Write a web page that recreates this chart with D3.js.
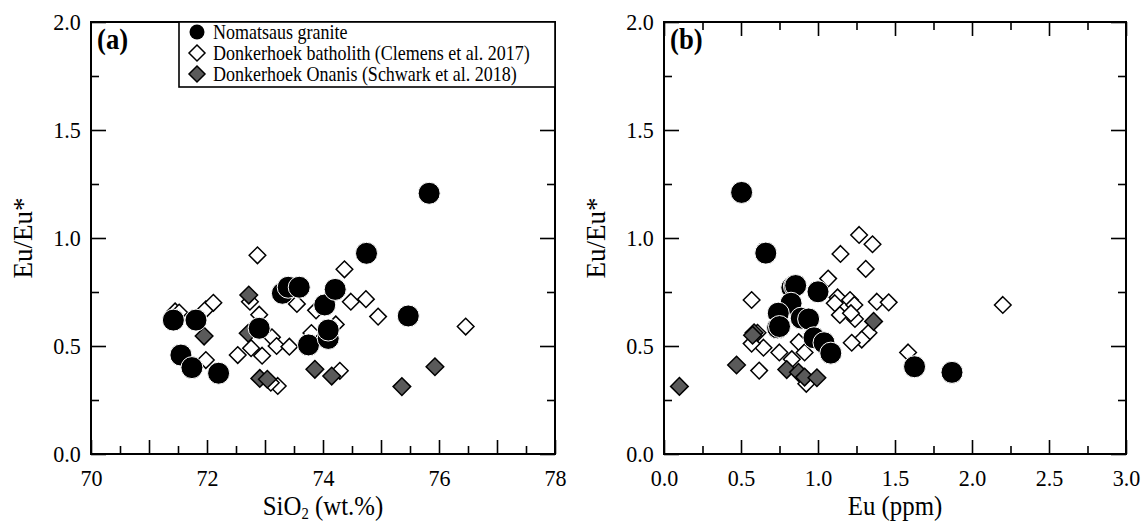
<!DOCTYPE html>
<html>
<head>
<meta charset="utf-8">
<script src="https://cdn.jsdelivr.net/npm/d3@7"></script>
<style>
  html, body { margin: 0; padding: 0; background: #fff; }
  svg text { font-family: "Liberation Serif", "DejaVu Serif", "Times New Roman", serif !important; fill: #000; }
</style>
</head>
<body>
<svg id="chart" width="1146" height="524" font-family="Liberation Serif, DejaVu Serif, serif"></svg>
<script>
// ---------------- DATA ----------------
// Panel (a): SiO2 (wt.%) vs Eu/Eu*
const nomatsausA_SiO2 = [71.42, 71.81, 71.55, 71.74, 72.20, 72.90, 73.30, 73.40, 73.59, 73.75, 74.03, 74.21, 74.09, 74.09, 74.75, 75.47, 75.83];
const nomatsausA_EuEu = [0.62, 0.62, 0.458, 0.40, 0.374, 0.582, 0.744, 0.772, 0.772, 0.505, 0.69, 0.762, 0.535, 0.574, 0.929, 0.639, 1.207];

const clemensA_SiO2 = [71.45, 71.52, 71.98, 72.11, 71.98, 72.53, 72.76, 72.95, 72.74, 72.87, 72.90, 73.12, 73.20, 73.42, 73.55, 73.22, 73.10, 73.80, 73.88, 74.22, 74.29, 74.37, 74.48, 74.74, 74.95, 76.46];
const clemensA_EuEu = [0.66, 0.655, 0.67, 0.70, 0.435, 0.458, 0.49, 0.455, 0.705, 0.92, 0.645, 0.54, 0.50, 0.497, 0.695, 0.315, 0.33, 0.56, 0.665, 0.60, 0.385, 0.855, 0.705, 0.717, 0.636, 0.59];

const schwarkA_SiO2 = [71.95, 72.72, 72.71, 72.91, 73.04, 73.86, 74.15, 75.36, 75.93];
const schwarkA_EuEu = [0.546, 0.736, 0.559, 0.35, 0.346, 0.392, 0.361, 0.312, 0.404];

// Panel (b): Eu (ppm) vs Eu/Eu*
const nomatsausB_Eu   = [0.504, 0.661, 0.83, 0.847, 0.855, 1.0, 0.825, 0.742, 0.738, 0.75, 0.891, 0.939, 0.974, 1.039, 1.083, 1.627, 1.870];
const nomatsausB_EuEu = [1.211, 0.930, 0.77, 0.777, 0.78, 0.751, 0.698, 0.652, 0.584, 0.59, 0.629, 0.625, 0.538, 0.515, 0.467, 0.404, 0.378];

const clemensB_Eu   = [0.569, 1.267, 1.354, 1.146, 1.310, 1.066, 1.127, 1.208, 1.236, 1.142, 1.240, 1.382, 1.459, 1.328, 1.284, 1.219, 0.875, 0.913, 0.749, 0.830, 0.646, 0.569, 0.618, 0.924, 0.607, 1.109, 1.214, 2.20, 1.585];
const clemensB_EuEu = [0.713, 1.014, 0.971, 0.926, 0.857, 0.812, 0.725, 0.713, 0.690, 0.644, 0.625, 0.705, 0.702, 0.561, 0.530, 0.515, 0.518, 0.470, 0.470, 0.439, 0.492, 0.511, 0.386, 0.325, 0.561, 0.698, 0.652, 0.69, 0.47];

const schwarkB_Eu   = [0.10, 0.471, 0.585, 0.575, 0.797, 0.873, 0.913, 0.993, 1.361];
const schwarkB_EuEu = [0.313, 0.412, 0.561, 0.55, 0.391, 0.378, 0.356, 0.353, 0.614];

// Axis ticks
const yLabelTicks = [0, 0.5, 1.0, 1.5, 2.0];
const yMinorTicks = [0.25, 0.75, 1.25, 1.75];
const xLabelTicksA = [70, 72, 74, 76, 78];
const xMajorUnlabeledA = [71, 73, 75, 77];
const xMinorTicksA = [70.5, 71.5, 72.5, 73.5, 74.5, 75.5, 76.5, 77.5];
const xLabelTicksB = [0, 0.5, 1.0, 1.5, 2.0, 2.5, 3.0];
const xMinorTicksB = [0.25, 0.75, 1.25, 1.75, 2.25, 2.75];

const legendLabels = ["Nomatsaus granite", "Donkerhoek batholith (Clemens et al. 2017)", "Donkerhoek Onanis (Schwark et al. 2018)"];

// ---------------- DRAW ----------------
const FONT = "Liberation Serif, DejaVu Serif, serif";
const svg = d3.select("#chart");
const Y0 = 22, Y1 = 454;
const SX = 0.92; // horizontal text compression
const grayFill = "#5a5a5a";

function diamond(h) { return `M0,${-h}L${h},0L0,${h}L${-h},0Z`; }

function styleAxis(g) {
  g.attr("font-family", FONT);
  g.select(".domain").remove();
  g.selectAll(".tick line").attr("stroke", "#000").attr("stroke-width", 1.6);
}

function panel(opts) {
  const g = svg.append("g");
  const x = d3.scaleLinear().domain(opts.xDomain).range([opts.x0, opts.x1]);
  const y = d3.scaleLinear().domain([0, 2]).range([Y1, Y0]);

  const bl = g.append("g").attr("transform", `translate(0,${Y1})`)
    .call(d3.axisBottom(x).tickValues(opts.xLabel).tickSize(-14).tickPadding(15).tickFormat(opts.xFmt));
  styleAxis(bl);
  bl.selectAll("text").attr("font-size", 24).attr("font-family", FONT).attr("transform", `scale(${SX},1)`);
  if (opts.xMajorUnl) {
    const bm = g.append("g").attr("transform", `translate(0,${Y1})`)
      .call(d3.axisBottom(x).tickValues(opts.xMajorUnl).tickSize(-14).tickFormat(""));
    styleAxis(bm);
  }
  const bn = g.append("g").attr("transform", `translate(0,${Y1})`)
    .call(d3.axisBottom(x).tickValues(opts.xMinor).tickSize(-8).tickFormat(""));
  styleAxis(bn);

  if (opts.topTicks) {
    const tl = g.append("g").attr("transform", `translate(0,${Y0})`)
      .call(d3.axisTop(x).tickValues(opts.xLabel.concat(opts.xMajorUnl || [])).tickSize(-14).tickFormat(""));
    styleAxis(tl);
    const tn = g.append("g").attr("transform", `translate(0,${Y0})`)
      .call(d3.axisTop(x).tickValues(opts.xMinor).tickSize(-8).tickFormat(""));
    styleAxis(tn);
  }

  const ll = g.append("g").attr("transform", `translate(${opts.x0},0)`)
    .call(d3.axisLeft(y).tickValues(yLabelTicks).tickSize(-15).tickPadding(11).tickFormat(d3.format(".1f")));
  styleAxis(ll);
  ll.selectAll("text").attr("font-size", 24).attr("font-family", FONT).attr("transform", `scale(${SX},1)`);
  const ln = g.append("g").attr("transform", `translate(${opts.x0},0)`)
    .call(d3.axisLeft(y).tickValues(yMinorTicks).tickSize(-8).tickFormat(""));
  styleAxis(ln);
  const rl = g.append("g").attr("transform", `translate(${opts.x1},0)`)
    .call(d3.axisRight(y).tickValues(yLabelTicks).tickSize(-15).tickFormat(""));
  styleAxis(rl);
  const rn = g.append("g").attr("transform", `translate(${opts.x1},0)`)
    .call(d3.axisRight(y).tickValues(yMinorTicks).tickSize(-8).tickFormat(""));
  styleAxis(rn);

  g.append("rect").attr("x", opts.x0).attr("y", Y0)
    .attr("width", opts.x1 - opts.x0).attr("height", Y1 - Y0)
    .attr("fill", "none").attr("stroke", "#000").attr("stroke-width", 2);

  const d1 = opts.clemX.map((v, i) => [v, opts.clemY[i]]);
  g.append("g").selectAll("path").data(d1).join("path")
    .attr("d", diamond(8.3))
    .attr("transform", d => `translate(${x(d[0])},${y(d[1])})`)
    .attr("fill", "#fff").attr("stroke", "#000").attr("stroke-width", 1.5);
  const d2 = opts.schX.map((v, i) => [v, opts.schY[i]]);
  g.append("g").selectAll("path").data(d2).join("path")
    .attr("d", diamond(8.8))
    .attr("transform", d => `translate(${x(d[0])},${y(d[1])})`)
    .attr("fill", grayFill).attr("stroke", "#000").attr("stroke-width", 1.5);
  const d3c = opts.nomX.map((v, i) => [v, opts.nomY[i]]);
  g.append("g").selectAll("circle").data(d3c).join("circle")
    .attr("cx", d => x(d[0])).attr("cy", d => y(d[1])).attr("r", 11)
    .attr("fill", "#000").attr("stroke", "#fff").attr("stroke-width", 1);

  g.append("text").attr("transform", `translate(${opts.x0 + 6},${Y0 + 27}) scale(${SX},1)`)
    .attr("font-family", FONT)
    .attr("font-size", 29).attr("font-weight", "bold").text(opts.label);

  const xt = g.append("text")
    .attr("transform", `translate(${(opts.x0 + opts.x1) / 2},515) scale(${SX},1)`)
    .attr("font-family", FONT)
    .attr("text-anchor", "middle").attr("font-size", 27);
  opts.xTitle(xt);

  g.append("text")
    .attr("transform", `translate(${opts.x0 - 59},${(Y0 + Y1) / 2}) rotate(-90)`)
    .attr("font-family", FONT)
    .attr("text-anchor", "middle").attr("font-size", 27)
    .text("Eu/Eu*");
  return g;
}

panel({
  x0: 91, x1: 555, xDomain: [70, 78],
  xLabel: xLabelTicksA, xMajorUnl: xMajorUnlabeledA, xMinor: xMinorTicksA,
  xFmt: d3.format("d"), topTicks: false,
  nomX: nomatsausA_SiO2, nomY: nomatsausA_EuEu,
  clemX: clemensA_SiO2, clemY: clemensA_EuEu,
  schX: schwarkA_SiO2, schY: schwarkA_EuEu,
  label: "(a)",
  xTitle: t => {
    t.append("tspan").text("SiO");
    t.append("tspan").attr("font-size", 16).attr("dy", 4).text("2");
    t.append("tspan").attr("dy", -4).text(" (wt.%)");
  }
});

panel({
  x0: 664, x1: 1126, xDomain: [0, 3],
  xLabel: xLabelTicksB, xMajorUnl: null, xMinor: xMinorTicksB,
  xFmt: d3.format(".1f"), topTicks: true,
  nomX: nomatsausB_Eu, nomY: nomatsausB_EuEu,
  clemX: clemensB_Eu, clemY: clemensB_EuEu,
  schX: schwarkB_Eu, schY: schwarkB_EuEu,
  label: "(b)",
  xTitle: t => t.text("Eu (ppm)")
});

const lg = svg.append("g");
lg.append("rect").attr("x", 179).attr("y", 22).attr("width", 555 - 179).attr("height", 87 - 22)
  .attr("fill", "#fff").attr("stroke", "#000").attr("stroke-width", 1.6);
const rowY = [32, 53, 74];
lg.append("circle").attr("cx", 197).attr("cy", rowY[0]).attr("r", 7.5).attr("fill", "#000");
lg.append("path").attr("d", diamond(8)).attr("transform", `translate(197,${rowY[1]})`)
  .attr("fill", "#fff").attr("stroke", "#000").attr("stroke-width", 1.5);
lg.append("path").attr("d", diamond(8)).attr("transform", `translate(197,${rowY[2]})`)
  .attr("fill", grayFill).attr("stroke", "#000").attr("stroke-width", 1.5);
legendLabels.forEach((s, i) => {
  lg.append("text").attr("transform", `translate(213,${rowY[i] + 6.5}) scale(0.9,1)`)
    .attr("font-family", FONT)
    .attr("font-size", 20).text(s);
});
</script>
</body>
</html>
